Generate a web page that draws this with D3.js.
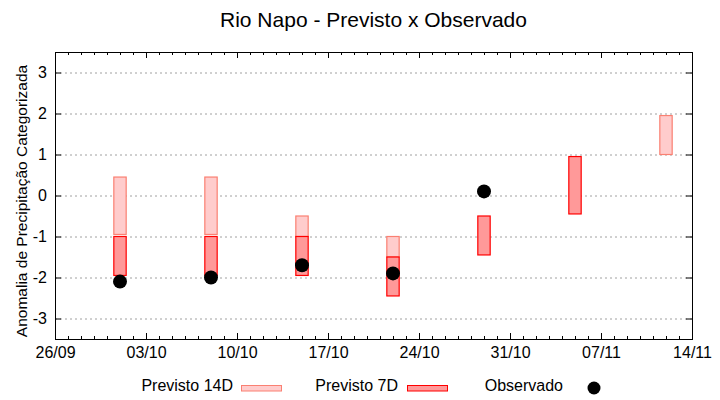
<!DOCTYPE html>
<html>
<head>
<meta charset="utf-8">
<script src="https://cdn.jsdelivr.net/npm/d3@7"></script>
<style>
  body { margin: 0; background: #fff; }
  svg { font-family: "Liberation Sans", Arial, sans-serif; }
</style>
</head>
<body>
<div id="chart"></div>
<script>
// forecast dates (one box per week)
const dates = ["2023-10-01","2023-10-08","2023-10-15","2023-10-22","2023-10-29","2023-11-05","2023-11-12"];
// 14 day forecast range (low, high), null = none
const prev14Low  = [-0.95, -0.95, -1.0, -1.5, null, null, 1.0];
const prev14High = [ 0.45,  0.45, -0.5, -1.0, null, null, 1.95];
// 7 day forecast range
const prev7Low  = [-1.95, -1.95, -1.95, -2.45, -1.45, -0.45, null];
const prev7High = [-1.0,  -1.0,  -1.0,  -1.5,  -0.5,   0.95, null];
// observed anomaly
const obsDates  = ["2023-10-01","2023-10-08","2023-10-15","2023-10-22","2023-10-29"];
const obsValues = [-2.1, -2.0, -1.7, -1.9, 0.1];
// axes
const xStart = "2023-09-26", xEnd = "2023-11-14";
const yTicks = [-3, -2, -1, 0, 1, 2, 3];

const W = 720, H = 400;
const m = {top: 52, right: 28, bottom: 61, left: 55};
const parse = d3.utcParse("%Y-%m-%d");
const fmt = d3.utcFormat("%d/%m");

const svg = d3.select("#chart").append("svg").attr("width", W).attr("height", H);

const x = d3.scaleUtc().domain([parse(xStart), parse(xEnd)]).range([m.left, W - m.right]);
const y = d3.scaleLinear().domain([-3.5, 3.5]).range([H - m.bottom, m.top]);

const majorTicks = d3.utcDay.range(parse(xStart), d3.utcDay.offset(parse(xEnd), 1), 7);
const minorTicks = d3.utcDay.range(parse(xStart), d3.utcDay.offset(parse(xEnd), 1), 1);

// horizontal dotted grid
svg.append("g").selectAll("line").data(yTicks).enter().append("line")
  .attr("x1", m.left).attr("x2", W - m.right)
  .attr("y1", d => y(d) + 0.5).attr("y2", d => y(d) + 0.5)
  .attr("stroke", "#a0a0a0").attr("stroke-dasharray", "2,3");

// ticks (inward, mirrored)
const bottomY = H - m.bottom, topY = m.top;
svg.append("g").attr("transform", `translate(0,${bottomY})`)
  .call(d3.axisTop(x).tickValues(minorTicks).tickSize(3).tickFormat(""))
  .call(g => g.select(".domain").remove());
svg.append("g").attr("transform", `translate(0,${bottomY})`)
  .call(d3.axisTop(x).tickValues(majorTicks).tickSize(6).tickFormat(""))
  .call(g => g.select(".domain").remove());
svg.append("g").attr("transform", `translate(0,${topY})`)
  .call(d3.axisBottom(x).tickValues(minorTicks).tickSize(3).tickFormat(""))
  .call(g => g.select(".domain").remove());
svg.append("g").attr("transform", `translate(0,${topY})`)
  .call(d3.axisBottom(x).tickValues(majorTicks).tickSize(6).tickFormat(""))
  .call(g => g.select(".domain").remove());
svg.append("g").attr("transform", `translate(${W - m.right},0)`)
  .call(d3.axisLeft(y).tickValues(yTicks).tickSize(6).tickFormat(""))
  .call(g => g.select(".domain").remove());
svg.append("g").attr("transform", `translate(${m.left},0)`)
  .call(d3.axisRight(y).tickValues(yTicks).tickSize(6).tickFormat(""))
  .call(g => g.select(".domain").remove());

// tick labels
svg.append("g").attr("transform", `translate(0,${bottomY})`)
  .call(d3.axisBottom(x).tickValues(majorTicks).tickSize(0).tickPadding(8).tickFormat(fmt))
  .call(g => g.select(".domain").remove())
  .call(g => g.selectAll("text").attr("font-size", 16).attr("fill", "#000")
    .attr("font-family", "Liberation Sans, Arial, sans-serif").attr("dy", "0.71em"));
svg.append("g").attr("transform", `translate(${m.left},0)`)
  .call(d3.axisLeft(y).tickValues(yTicks).tickSize(0).tickPadding(8).tickFormat(d => String(d)))
  .call(g => g.select(".domain").remove())
  .call(g => g.selectAll("text").attr("font-size", 16).attr("fill", "#000")
    .attr("font-family", "Liberation Sans, Arial, sans-serif"));

// boxes
const half = 0.475 * 24 * 3600 * 1000;
const boxX = d => x(new Date(parse(d).getTime() - half));
const boxW = d => x(new Date(parse(d).getTime() + half)) - boxX(d);

const b14 = dates.map((d, i) => ({d, lo: prev14Low[i], hi: prev14High[i]})).filter(o => o.lo !== null);
const b7 = dates.map((d, i) => ({d, lo: prev7Low[i], hi: prev7High[i]})).filter(o => o.lo !== null);

svg.append("g").selectAll("rect").data(b14).enter().append("rect")
  .attr("x", o => boxX(o.d)).attr("width", o => boxW(o.d))
  .attr("y", o => y(o.hi)).attr("height", o => y(o.lo) - y(o.hi))
  .attr("fill", "#ffcccc").attr("stroke", "#fa8072").attr("stroke-width", 1.2);
svg.append("g").selectAll("rect").data(b7).enter().append("rect")
  .attr("x", o => boxX(o.d)).attr("width", o => boxW(o.d))
  .attr("y", o => y(o.hi)).attr("height", o => y(o.lo) - y(o.hi))
  .attr("fill", "#ff9999").attr("stroke", "#ff0000").attr("stroke-width", 1.2);

// observed dots
svg.append("g").selectAll("circle").data(obsDates).enter().append("circle")
  .attr("cx", d => x(parse(d))).attr("cy", (d, i) => y(obsValues[i]))
  .attr("r", 7).attr("fill", "#000");

// border
svg.append("rect").attr("x", m.left + 0.5).attr("y", m.top + 0.5)
  .attr("width", W - m.left - m.right).attr("height", H - m.top - m.bottom)
  .attr("fill", "none").attr("stroke", "#000");

// title and axis label
svg.append("text").attr("x", (m.left + W - m.right) / 2).attr("y", 27)
  .attr("text-anchor", "middle").attr("font-size", 21).text("Rio Napo - Previsto x Observado");
svg.append("text").attr("transform", "translate(27,201) rotate(-90)")
  .attr("text-anchor", "middle").attr("font-size", 15.5).text("Anomalia de Precipitação Categorizada");

// legend
const legend = svg.append("g").attr("font-size", 16);
legend.append("text").attr("x", 233).attr("y", 391).attr("text-anchor", "end").text("Previsto 14D");
legend.append("rect").attr("x", 241.5).attr("y", 385.5).attr("width", 40).attr("height", 5.5)
  .attr("fill", "#ffcccc").attr("stroke", "#fa8072");
legend.append("text").attr("x", 398).attr("y", 391).attr("text-anchor", "end").text("Previsto 7D");
legend.append("rect").attr("x", 407.5).attr("y", 385.5).attr("width", 40).attr("height", 5.5)
  .attr("fill", "#ff9999").attr("stroke", "#ff0000");
legend.append("text").attr("x", 563).attr("y", 391).attr("text-anchor", "end").text("Observado");
legend.append("circle").attr("cx", 594).attr("cy", 388).attr("r", 6.5).attr("fill", "#000");
</script>
</body>
</html>
